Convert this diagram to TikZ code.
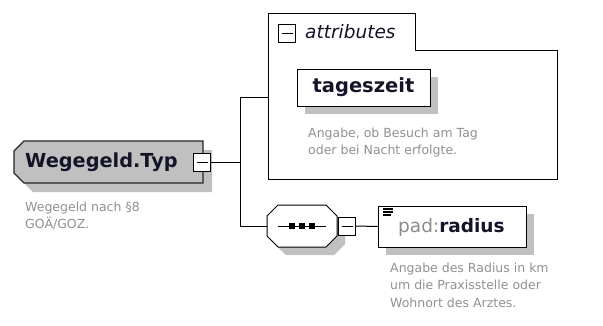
\documentclass[tikz,border=0pt]{standalone}
\usepackage{fontspec}
\setmainfont{DejaVu Sans}
\usetikzlibrary{backgrounds}
\definecolor{descc}{RGB}{145,145,145}
\definecolor{shadowc}{RGB}{192,192,192}
\definecolor{elemfill}{RGB}{192,192,192}
\definecolor{titlec}{RGB}{20,20,40}
\definecolor{prefc}{RGB}{140,140,140}
\newcommand\octshape[4]{([shift={({#2+#4},{#3})}]#1.north west) -- ([shift={({#2-#4},{#3})}]#1.north east) -- ([shift={({#2},{#3+#4})}]#1.north east) -- ([shift={({#2},{#3-#4})}]#1.south east) -- ([shift={({#2-#4},{#3})}]#1.south east) -- ([shift={({#2+#4},{#3})}]#1.south west) -- ([shift={({#2},{#3-#4})}]#1.south west) -- ([shift={({#2},{#3+#4})}]#1.north west) -- cycle}
\newcommand\leftcham[4]{([shift={({#2+#4},{#3})}]#1.north west) -- ([shift={(#2,#3)}]#1.north east) -- ([shift={(#2,#3)}]#1.south east) -- ([shift={({#2+#4},{#3})}]#1.south west) -- ([shift={({#2},{#3-#4})}]#1.south west) -- ([shift={({#2},{#3+#4})}]#1.north west) -- cycle}
\begin{document}
\begin{tikzpicture}[x=1pt,y=-1pt,line join=miter,
  area/.style={draw=none,inner sep=0pt,outer sep=0pt},
  minusbox/.style={draw=black,fill=white,line width=1pt,minimum width=17pt,minimum height=18pt,inner sep=0pt,outer sep=0pt},
  minussign/.style={line width=1pt},
  desc/.style={anchor=north west,inner sep=0pt,align=left,font=\fontsize{12.5}{17.2}\selectfont,text=descc},
  titlefont/.style={anchor=west,inner sep=0pt,font=\fontsize{19.3}{21}\bfseries\selectfont,text=titlec},
  outline/.style={draw=black,line width=1pt},
  conn/.style={line width=1pt,draw=black}]
\useasboundingbox (0,0) rectangle (603,325);

% --- areas (invisible nodes) ---
\node[area,minimum width=189pt,minimum height=42pt] (typ) at (108.5,162) {};
\node[area,minimum width=147pt,minimum height=37pt] (attrtab) at (341.5,31.5) {};
\node[area,minimum width=289pt,minimum height=129pt] (attrbody) at (412.5,114.5) {};
\node[area,minimum width=133pt,minimum height=37pt] (tz) at (363.5,87.5) {};
\node[area,minimum width=70pt,minimum height=42pt] (seq) at (302,226) {};
\node[area,minimum width=148pt,minimum height=41pt] (pad) at (452,226.5) {};

% --- texts ---
\node[titlefont] (typtxt) at (25,162) {Wegegeld.Typ};
\node[desc] (typdesc) at (25,202) {Wegegeld nach §8\\GOÄ/GOZ.};
\node[anchor=west,inner sep=0pt,font=\fontsize{18.5}{21}\itshape\selectfont,text=titlec] (attrtxt) at (305,32) {attributes};
\node[inner sep=0pt,font=\fontsize{19.5}{21}\bfseries\selectfont,text=titlec] (tztxt) at (tz) {tageszeit};
\node[desc] (tzdesc) at (308,128) {Angabe, ob Besuch am Tag\\oder bei Nacht erfolgte.};
\node[anchor=west,inner sep=0pt,font=\fontsize{18.5}{21}\bfseries\selectfont,text=titlec] (padtxt) at (398,227) {\textcolor{prefc}{\mdseries pad:}radius};
\node[desc] (paddesc) at (390,263) {Angabe des Radius in km\\um die Praxisstelle oder\\Wohnort des Arztes.};

% --- minus boxes ---
\node[minusbox] (m1) at (202,162) {};
\node[minusbox] (m2) at (287,33) {};
\node[minusbox] (m3) at (347,226) {};
\foreach \m in {m1,m2,m3}
  \draw[minussign] ([xshift=3pt]\m.west) -- ([xshift=-3pt]\m.east);

% --- connectors ---
\coordinate (j0) at (240,162);
\coordinate (j1) at (240,97);
\coordinate (j2) at (240,226);
\draw[conn] (m1.east) -- (j0);
\draw[conn] (j1) -- (j2);
\draw[conn] (j1) -- (j1 -| attrbody.west);
\draw[conn] (j2) -- (seq.west);
\draw[conn] (m3.east) -- (pad.west);

% --- sequence symbol ---
\draw[line width=1pt] ([xshift=11pt]seq.west) -- ([xshift=-11pt]seq.east);
\foreach \dx in {-10,0,10}
  \fill ([xshift=\dx pt]seq.center) +(-2.7,-2.7) rectangle +(2.7,2.7);

% --- pad icon ---
\draw[line width=1.2pt] ([shift={(5,3)}]pad.north west) -- +(10,0);
\draw[line width=1.2pt] ([shift={(5,6)}]pad.north west) -- +(10,0);
\draw[line width=1.2pt] ([shift={(5,9)}]pad.north west) -- +(8,0);

% --- shapes on background ---
\begin{scope}[on background layer]
  \fill[white] (0,0) rectangle (603,325);
  \fill[shadowc] \leftcham{typ}{9}{9}{10};
  \filldraw[fill=elemfill,draw=black!85,line width=1.4pt] \leftcham{typ}{0}{0}{10};
  \draw[outline] (attrbody.south west) -- (attrtab.north west) -- (attrtab.north east)
     -- (attrtab.south east) -- (attrbody.north east) -- (attrbody.south east) -- cycle;
  \fill[shadowc] ([shift={(8,8)}]tz.north west) rectangle ([shift={(8,8)}]tz.south east);
  \filldraw[fill=white,outline] (tz.north west) rectangle (tz.south east);
  \fill[shadowc] \octshape{seq}{8}{8}{11};
  \filldraw[fill=white,outline] \octshape{seq}{0}{0}{11};
  \fill[shadowc] ([shift={(8,8)}]pad.north west) rectangle ([shift={(8,8)}]pad.south east);
  \filldraw[fill=white,outline] (pad.north west) rectangle (pad.south east);
\end{scope}
\end{tikzpicture}
\end{document}
